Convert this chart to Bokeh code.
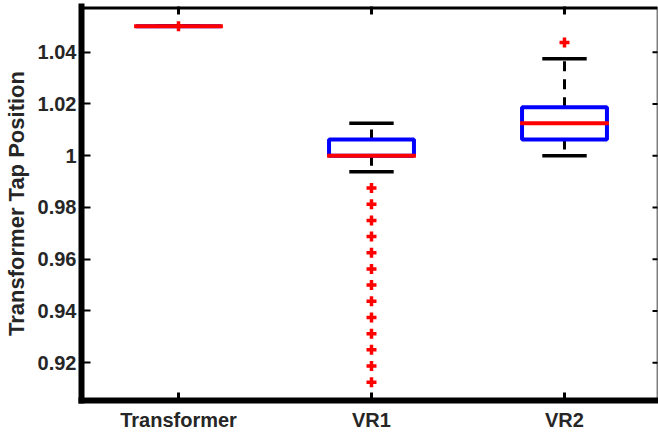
import math
from bokeh.plotting import figure
from bokeh.models import FixedTicker, CustomJSTickFormatter, Range1d, ColumnDataSource, Span
from bokeh.embed import file_html
from bokeh.resources import INLINE

# ---- data ----
categories = ["Transformer", "VR1", "VR2"]
positions = [1, 2, 3]
q1 = [1.05, 1.0, 1.00625]
medians = [1.05, 1.0, 1.0125]
q3 = [1.05, 1.00625, 1.01875]
lower_whisker = [1.05, 0.99375, 1.0]
upper_whisker = [1.05, 1.0125, 1.0375]
outliers_transformer = [1.05]
outliers_vr1 = [0.9875, 0.98125, 0.975, 0.96875, 0.9625, 0.95625, 0.95,
                0.94375, 0.9375, 0.93125, 0.925, 0.91875, 0.9125]
outliers_vr2 = [1.04375]
y_ticks = [0.92, 0.94, 0.96, 0.98, 1.0, 1.02, 1.04]

# ---- styling ----
TXT = "#262626"
FONT = "Liberation Sans"
BOX_HALF = 0.22
MED_HALF = 0.23
CAP_HALF = 0.115
X0, X1 = 0.4974, 3.4819
Y0, Y1 = 0.90542, 1.05764

p = figure(width=658, height=437, output_backend="svg", toolbar_location=None,
           x_range=Range1d(X0, X1), y_range=Range1d(Y0, Y1),
           min_border_left=81, min_border_right=1, min_border_top=6,
           min_border_bottom=37)
p.outline_line_color = None
p.grid.visible = False
p.background_fill_color = "white"
p.border_fill_color = "white"

# y axis (left)
ya = p.yaxis[0]
ya.ticker = FixedTicker(ticks=y_ticks)
ya.formatter = CustomJSTickFormatter(code="return tick.toFixed(2).replace(/\\.?0+$/, '');")
ya.axis_label = "Transformer Tap Position"
ya.axis_label_text_font = FONT
ya.axis_label_text_font_style = "bold"
ya.axis_label_text_font_size = "22px"
ya.axis_label_text_color = TXT
ya.axis_label_standoff = 6
ya.major_label_text_font = FONT
ya.major_label_text_font_style = "bold"
ya.major_label_text_font_size = "20px"
ya.major_label_text_color = TXT
ya.major_label_standoff = 5
ya.axis_line_width = 6
ya.axis_line_cap = "square"
ya.major_tick_in = 9
ya.major_tick_out = 0
ya.major_tick_line_width = 2
ya.minor_tick_line_color = None

# x axis (bottom)
xa = p.xaxis[0]
xa.ticker = FixedTicker(ticks=positions)
xa.major_label_overrides = {pos: cat for pos, cat in zip(positions, categories)}
xa.major_label_text_font = FONT
xa.major_label_text_font_style = "bold"
xa.major_label_text_font_size = "20px"
xa.major_label_text_color = TXT
xa.major_label_standoff = 8
xa.axis_line_width = 6
xa.axis_line_cap = "square"
xa.major_tick_in = 8
xa.major_tick_out = 0
xa.major_tick_line_width = 3
xa.minor_tick_line_color = None

# top border (thick) and right border (thin)
p.add_layout(Span(location=Y1, dimension="width", line_color="black", line_width=6))
p.add_layout(Span(location=X1, dimension="height", line_color="black", line_width=1.5))
# inward ticks on the top and right borders (clipped to the frame -> half visible)
p.scatter(x=positions, y=[Y1] * len(positions), marker="dash", angle=math.pi / 2,
          size=16, line_color="black", line_width=3)
p.scatter(x=[X1] * len(y_ticks), y=y_ticks, marker="dash", size=10,
          line_color="black", line_width=2)

# ---- boxes ----
src = ColumnDataSource(dict(
    x=positions, q1=q1, med=medians, q3=q3, lo=lower_whisker, hi=upper_whisker,
    box_l=[x - BOX_HALF for x in positions], box_r=[x + BOX_HALF for x in positions],
    med_l=[x - MED_HALF for x in positions], med_r=[x + MED_HALF for x in positions],
    cap_l=[x - CAP_HALF for x in positions], cap_r=[x + CAP_HALF for x in positions],
))

# whiskers (dashed), drawn from box edge outward
p.segment(x0="x", y0="q3", x1="x", y1="hi", source=src, line_color="black",
          line_width=3, line_dash="10 8")
p.segment(x0="x", y0="q1", x1="x", y1="lo", source=src, line_color="black",
          line_width=3, line_dash="10 8")
# caps
p.segment(x0="cap_l", y0="hi", x1="cap_r", y1="hi", source=src,
          line_color="black", line_width=3.5)
p.segment(x0="cap_l", y0="lo", x1="cap_r", y1="lo", source=src,
          line_color="black", line_width=3.5)
# box
p.quad(left="box_l", right="box_r", bottom="q1", top="q3", source=src,
       fill_color=None, line_color="#0000ff", line_width=4)
# median
p.segment(x0="med_l", y0="med", x1="med_r", y1="med", source=src,
          line_color="#ff0000", line_width=4)

# outliers
ox, oy = [], []
for pos, vals in zip(positions, [outliers_transformer, outliers_vr1, outliers_vr2]):
    ox += [pos] * len(vals)
    oy += vals
p.scatter(x=ox, y=oy, marker="cross", size=10, line_color="#ff0000", line_width=3.5)

open("out.html", "w").write(file_html(p, INLINE))
